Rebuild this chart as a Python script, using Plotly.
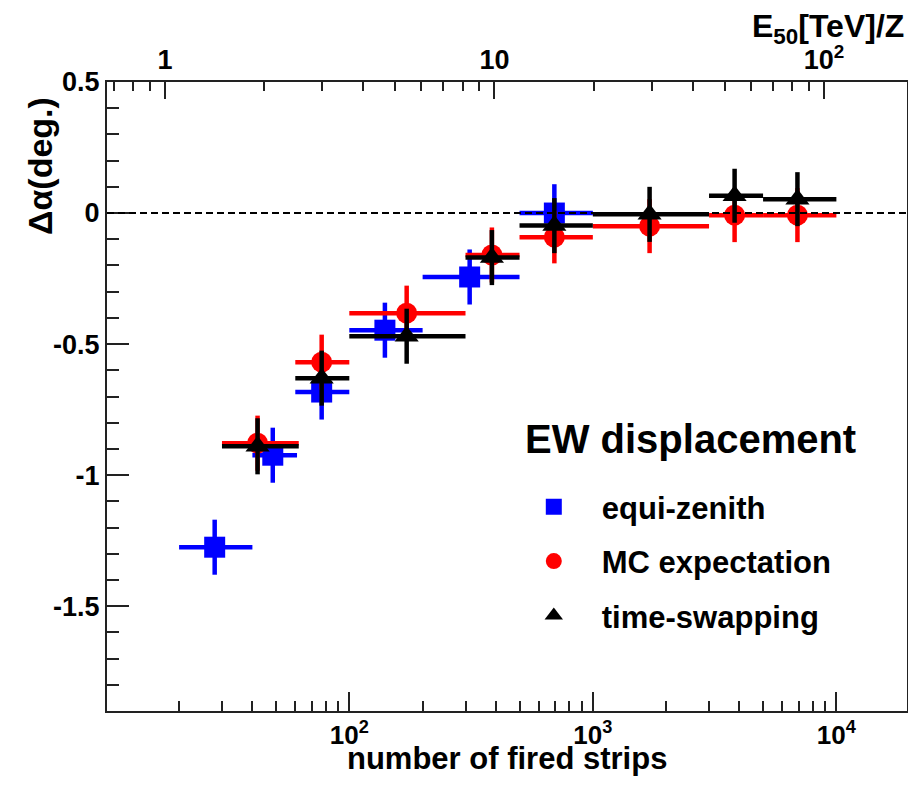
import plotly.graph_objects as go

# ---------------- data ----------------
# equi-zenith (blue squares)
ez_x = [28, 48.5, 77, 140, 312, 695]
ez_lo = [20, 40, 60, 100, 200, 500]
ez_hi = [40, 61, 100, 200, 500, 1000]
ez_y = [-1.275, -0.924, -0.683, -0.447, -0.244, 0.0]
ez_err = [0.105, 0.105, 0.105, 0.105, 0.105, 0.11]

# MC expectation (red circles)
mc_x = [42, 77, 172, 385, 695, 1710, 3820, 6920]
mc_lo = [30, 60, 100, 300, 500, 1000, 3000, 5000]
mc_hi = [62, 100, 300, 500, 1000, 3000, 5000, 10000]
mc_y = [-0.878, -0.569, -0.382, -0.16, -0.092, -0.05, -0.008, -0.008]
mc_err = [0.105, 0.105, 0.105, 0.105, 0.1, 0.103, 0.103, 0.103]

# time-swapping (black triangles)
ts_x = [42, 77, 172, 385, 695, 1710, 3820, 6920]
ts_lo = [30, 60, 100, 300, 500, 1000, 3000, 5000]
ts_hi = [62, 100, 300, 500, 1000, 3000, 5000, 10000]
ts_y = [-0.89, -0.63, -0.47, -0.17, -0.048, -0.005, 0.066, 0.053]
ts_err = [0.107, 0.105, 0.105, 0.105, 0.105, 0.105, 0.103, 0.103]

# axis ticks
x_major = [100, 1000, 10000]
x_major_text = ["10<sup>2</sup>", "10<sup>3</sup>", "10<sup>4</sup>"]
top_major = [1, 10, 100]
top_major_text = ["1", "10", "10<sup>2</sup>"]
y_major = [0.5, 0, -0.5, -1, -1.5]
y_major_text = ["0.5", "0", "-0.5", "-1", "-1.5"]

x_minor = [m * d for d in (10, 100, 1000) for m in range(2, 10)]
top_minor = [0.7, 0.8, 0.9] + [m * d for d in (1, 10) for m in range(2, 10)]
y_minor = [round(-1.8 + 0.1 * i, 1) for i in range(23)]

FONT = "Liberation Sans, Arial, Helvetica, sans-serif"
AX = "#222222"

# The page body has an 8px margin, so the figure is sized to fit inside it.
FIG_W, FIG_H = 900, 769
PLOT_L, PLOT_T, PLOT_W, PLOT_H = 99, 74, 800, 629


def series(x, lo, hi, y, err, name, color, symbol, size):
    return go.Scatter(
        x=x, y=y, mode="markers", name=name,
        legendgroup=name,
        marker=dict(color=color, symbol=symbol, size=size, line=dict(width=0)),
        error_x=dict(type="data", symmetric=False,
                     array=[h - v for h, v in zip(hi, x)],
                     arrayminus=[v - l for v, l in zip(x, lo)],
                     color=color, thickness=4.5, width=0),
        error_y=dict(type="data", array=err, color=color, thickness=4.5, width=0),
        hoverinfo="x+y",
    )


fig = go.Figure()
fig.add_trace(series(ez_x, ez_lo, ez_hi, ez_y, ez_err, "equi-zenith", "#0000ff", "square", 21))
fig.add_trace(series(mc_x, mc_lo, mc_hi, mc_y, mc_err, "MC expectation", "#ff0000", "circle", 21))
fig.add_trace(series(ts_x, ts_lo, ts_hi, ts_y, ts_err, "time-swapping", "#000000", "triangle-up", 21))

# invisible trace to attach the top (E50) axis
fig.add_trace(go.Scatter(x=top_major, y=[0] * len(top_major), xaxis="x2", mode="markers",
                         marker=dict(opacity=0), showlegend=False, hoverinfo="skip"))

# dashed zero line
fig.add_shape(type="line", xref="paper", x0=0, x1=1, yref="y", y0=0, y1=0,
              line=dict(color="black", width=2, dash="7px,4px"))


def px(xp):
    return (xp - 8 - PLOT_L) / PLOT_W


def py(yp):
    return (PLOT_T + PLOT_H - (yp - 8)) / PLOT_H


fig.update_layout(
    width=FIG_W, height=FIG_H,
    margin=dict(l=PLOT_L, r=FIG_W - PLOT_L - PLOT_W, t=PLOT_T,
                b=FIG_H - PLOT_T - PLOT_H, autoexpand=False),
    paper_bgcolor="white", plot_bgcolor="white",
    font=dict(family=FONT, color="black", weight="bold"),
    xaxis=dict(
        type="log", range=[1.005, 4.29], automargin=False,
        tickmode="array", tickvals=x_major, ticktext=x_major_text,
        ticks="inside", ticklen=19, tickwidth=2, tickcolor=AX,
        minor=dict(tickmode="array", tickvals=x_minor, ticks="inside", ticklen=10,
                   tickwidth=2, tickcolor=AX),
        showline=True, linecolor=AX, linewidth=2,
        showgrid=False, zeroline=False,
        tickfont=dict(size=26, family=FONT, weight="bold"),
        ticklabelstandoff=0,
    ),
    xaxis2=dict(
        type="log", range=[-0.176, 2.252], overlaying="x", side="top", automargin=False,
        tickmode="array", tickvals=top_major, ticktext=top_major_text,
        ticks="inside", ticklen=17, tickwidth=2, tickcolor=AX,
        minor=dict(tickmode="array", tickvals=top_minor, ticks="inside", ticklen=9,
                   tickwidth=2, tickcolor=AX),
        showline=True, linecolor=AX, linewidth=2,
        showgrid=False, zeroline=False,
        tickfont=dict(size=27, family=FONT, weight="bold"),
    ),
    yaxis=dict(
        range=[-1.9, 0.5], automargin=False,
        tickmode="array", tickvals=y_major, ticktext=y_major_text,
        ticks="inside", ticklen=22, tickwidth=2, tickcolor=AX,
        minor=dict(tickmode="array", tickvals=y_minor, ticks="inside", ticklen=12,
                   tickwidth=2, tickcolor=AX),
        showline=True, linecolor=AX, linewidth=2, mirror=True,
        showgrid=False, zeroline=False,
        tickfont=dict(size=27, family=FONT, weight="bold"),
    ),
    legend=dict(
        x=0.4985, y=0.367, xanchor="left", yanchor="top",
        bgcolor="rgba(0,0,0,0)",
        font=dict(size=31, family=FONT, weight="bold"),
        tracegroupgap=11, itemwidth=86,
    ),
    annotations=[
        dict(text="Δα(deg.)", textangle=-90, xref="paper", yref="paper",
             x=px(40), y=py(95), xanchor="center", yanchor="top", showarrow=False,
             font=dict(size=34, family=FONT, weight="bold")),
        dict(text="E<sub>50</sub>[TeV]/Z", xref="paper", yref="paper",
             x=px(906), y=py(29), xanchor="right", yanchor="middle", showarrow=False,
             font=dict(size=32, family=FONT, weight="bold")),
        dict(text="number of fired strips", xref="paper", yref="paper",
             x=0.5, y=py(758), xanchor="center", yanchor="middle", showarrow=False,
             font=dict(size=31, family=FONT, weight="bold")),
        dict(text="EW displacement", xref="paper", yref="paper",
             x=px(523), y=py(439), xanchor="left", yanchor="middle",
             showarrow=False, font=dict(size=40, family=FONT, weight="bold")),
    ],
)

fig.write_html("out.html")
